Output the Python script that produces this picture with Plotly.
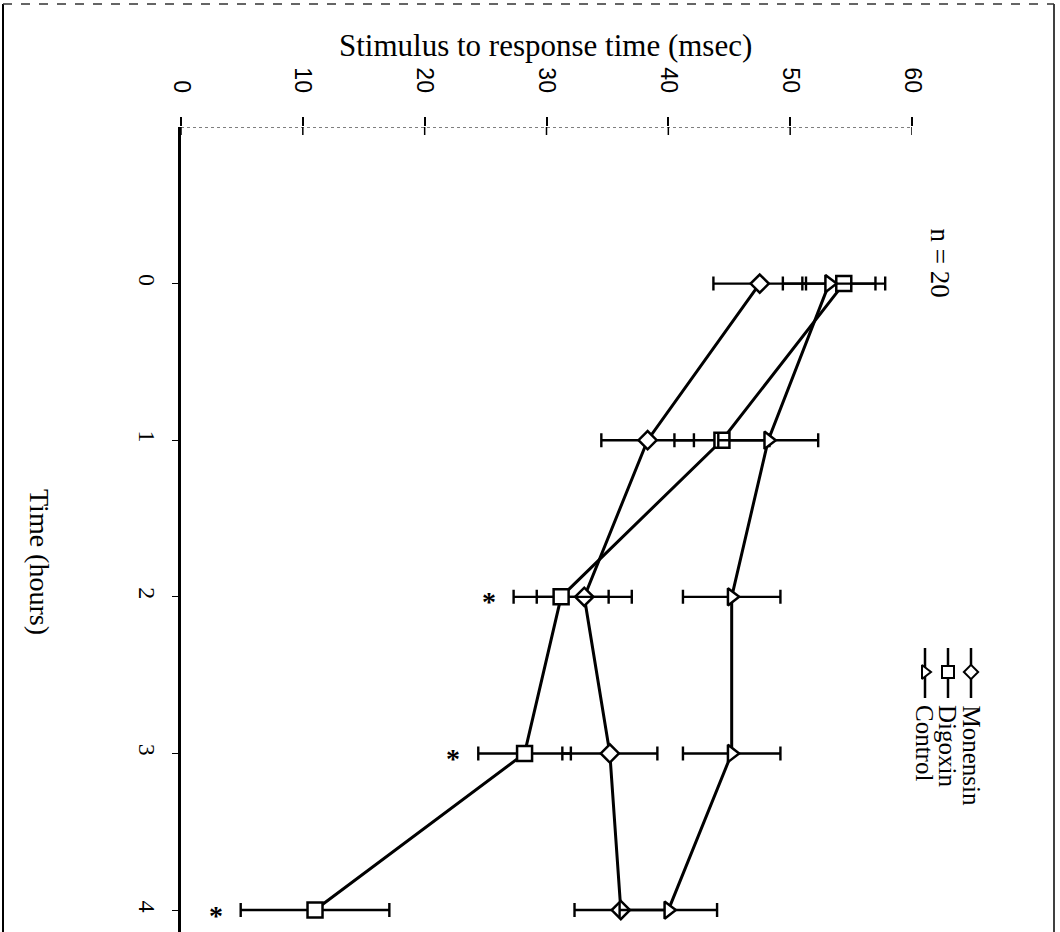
import plotly.graph_objects as go

# ---- data -------------------------------------------------------------
times = [0, 1, 2, 3, 4]
time_labels = ["0", "1", "2", "3", "4"]

monensin = [47.5, 38.3, 33.1, 35.2, 36.1]
monensin_err = [3.8, 3.8, 3.9, 3.9, 3.8]

digoxin = [54.4, 44.4, 31.2, 28.2, 11.0]
digoxin_err = [3.4, 3.9, 3.9, 3.8, 6.1]

control = [53.2, 48.2, 45.2, 45.2, 40.0]
control_err = [3.8, 4.1, 4.0, 4.0, 4.0]

# significance flags for the digoxin group
digoxin_sig = [False, False, True, True, True]

value_ticks = [0, 10, 20, 30, 40, 50, 60]
sample_note = "n = 20"

# ---- page geometry (pixels) --------------------------------------------
W, H = 1060, 932
X0, X1 = 181, 912          # value axis span
Y_TOP = 127                 # time axis start
FONT = "Liberation Serif"
SANS = "Liberation Sans"


def px(x):
    return x / W


def py(y):
    return 1 - y / H


fig = go.Figure()

series = [
    ("Monensin", monensin, monensin_err, "diamond", 14),
    ("Digoxin", digoxin, digoxin_err, "square", 15),
    ("Control", control, control_err, "triangle-right", 15),
]

for name, vals, errs, sym, size in series:
    fig.add_trace(go.Scatter(
        x=vals, y=times, name=name, mode="lines+markers",
        line=dict(color="black", width=3),
        marker=dict(symbol=sym, size=size, color="white",
                    line=dict(color="black", width=2.5)),
        error_x=dict(type="data", array=errs, visible=True,
                     color="black", thickness=2.4, width=7),
        showlegend=False,
    ))

# asterisks beside the significant digoxin points
for t, v, e, s in zip(times, digoxin, digoxin_err, digoxin_sig):
    if s:
        fig.add_annotation(x=v - e, y=t, text="<b>*</b>", showarrow=False,
                           xanchor="right", xshift=-16, yshift=-5,
                           font=dict(family=FONT, size=28, color="black"))

# dotted value-axis line at the top of the time axis
fig.add_shape(type="line", xref="x", yref="y", x0=0, x1=60, y0=-1, y1=-1,
              line=dict(color="black", width=1.2, dash="dot"))
for v in value_ticks:
    fig.add_shape(type="line", xref="x", yref="paper", x0=v, x1=v,
                  y0=py(Y_TOP), y1=py(Y_TOP + 8),
                  line=dict(color="black", width=1.5))

# legend drawn vertically, reading top to bottom
leg_x = [971, 948, 925]
for (name, vals, errs, sym, size), lx in zip(series, leg_x):
    fig.add_trace(go.Scatter(
        x=[lx, lx, lx], y=[648, 672, 698], mode="lines",
        line=dict(color="black", width=2.5),
        xaxis="x2", yaxis="y2", showlegend=False, hoverinfo="skip"))
    fig.add_trace(go.Scatter(
        x=[lx], y=[672], mode="markers",
        marker=dict(symbol=sym, size=size - 3, color="white",
                    line=dict(color="black", width=2)),
        xaxis="x2", yaxis="y2", showlegend=False, hoverinfo="skip"))
    fig.add_annotation(x=lx, y=703, xref="x2", yref="y2",
                       text=name, textangle=90, showarrow=False,
                       xanchor="center", yanchor="top",
                       font=dict(family=FONT, size=25, color="black"))

# sample-size note
fig.add_annotation(x=940, y=226, xref="x2", yref="y2",
                   text=sample_note, textangle=90, showarrow=False,
                   xanchor="center", yanchor="top",
                   font=dict(family=FONT, size=27, color="black"))

# axis titles
fig.add_annotation(x=545, y=45, xref="x2", yref="y2",
                   text="Stimulus to response time (msec)", showarrow=False,
                   xanchor="center", yanchor="middle",
                   font=dict(family=FONT, size=31, color="black"))
fig.add_annotation(x=40, y=562, xref="x2", yref="y2",
                   text="Time (hours)", textangle=90, showarrow=False,
                   xanchor="center", yanchor="middle",
                   font=dict(family=FONT, size=28, color="black"))

# page frame
fig.add_shape(type="line", xref="x2", yref="y2",
              x0=3, x1=3, y0=4, y1=H,
              line=dict(color="black", width=2))
fig.add_shape(type="line", xref="x2", yref="y2",
              x0=1054, x1=1054, y0=4, y1=H,
              line=dict(color="black", width=1.5))
fig.add_shape(type="line", xref="x2", yref="y2",
              x0=3, x1=1054, y0=4, y1=4,
              line=dict(color="#333333", width=1.5, dash="dash"))

fig.update_layout(
    width=W, height=H,
    margin=dict(l=0, r=0, t=0, b=0, autoexpand=False),
    paper_bgcolor="white", plot_bgcolor="rgba(0,0,0,0)",
    font=dict(family=FONT, color="black"),
    xaxis=dict(
        domain=[px(X0), px(X1)], range=[0, 60], side="top",
        tickvals=value_ticks, ticktext=[str(v) for v in value_ticks],
        tickangle=90, ticks="outside", ticklen=9, tickwidth=1.5,
        tickcolor="black", showline=False, showgrid=False, zeroline=False,
        tickfont=dict(family=SANS, size=23, color="black"),
        ticklabelstandoff=16, automargin=False, anchor="y",
    ),
    yaxis=dict(
        domain=[0, py(Y_TOP)], range=[4.14, -1],
        tickvals=times, ticktext=time_labels, tickangle=90,
        ticks="outside", ticklen=6, tickwidth=1.2, tickcolor="black",
        showline=True, linewidth=3, linecolor="black",
        showgrid=False, zeroline=False,
        tickfont=dict(family=FONT, size=24, color="black"),
        ticklabelstandoff=4, automargin=False, anchor="x",
    ),
    xaxis2=dict(domain=[0, 1], range=[0, W], visible=False,
                anchor="y2", automargin=False),
    yaxis2=dict(domain=[0, 1], range=[H, 0], visible=False,
                anchor="x2", automargin=False),
)

fig.write_html("out.html")
